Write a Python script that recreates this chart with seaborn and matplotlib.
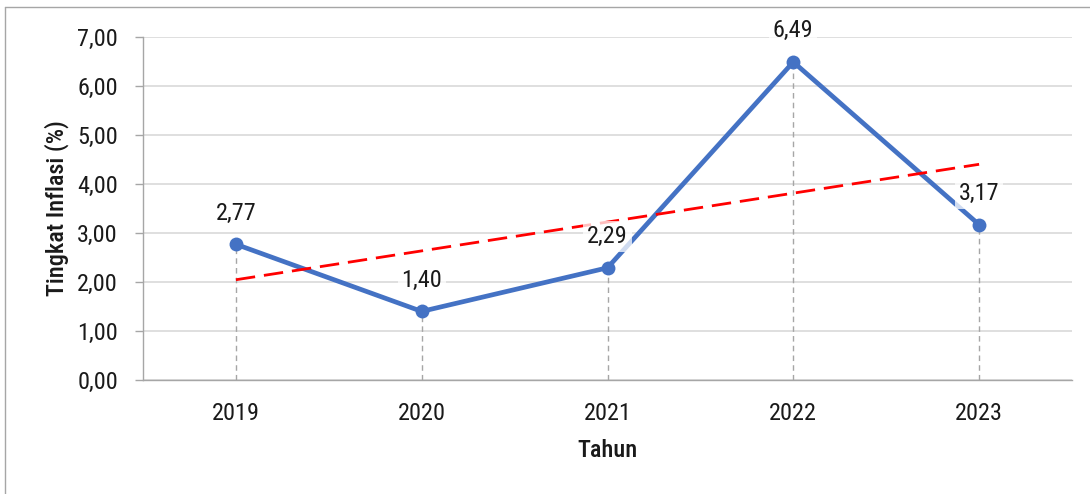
import numpy as np
import pandas as pd
import matplotlib
matplotlib.use("Agg")
import matplotlib.pyplot as plt
import seaborn as sns
from matplotlib.lines import Line2D
from matplotlib.ticker import FuncFormatter

# ---- data ----
years = ["2019", "2020", "2021", "2022", "2023"]
inflation = [2.77, 1.40, 2.29, 6.49, 3.17]
y_ticks = [0, 1, 2, 3, 4, 5, 6, 7]
x_title = "Tahun"
y_title = "Tingkat Inflasi (%)"

sns.set_theme(style="white")
plt.rcParams["font.family"] = ["Roboto Condensed", "DejaVu Sans"]
plt.rcParams["font.stretch"] = "condensed"

FS = 17.5
W, H = 1090, 494
fig = plt.figure(figsize=(W / 100, H / 100), dpi=100)
ax = fig.add_axes([143 / W, 1 - 380 / H, (1072 - 143) / W, (380 - 37) / H])

pos = np.arange(len(years))
df = pd.DataFrame({"pos": pos, "Tahun": years, "Inflasi": inflation})

# drop lines
ax.vlines(df["pos"], 0, df["Inflasi"], colors="#a6a6a6", linestyles=(0, (4, 3)),
          linewidth=1.0, zorder=1)

# main line
sns.lineplot(data=df, x="pos", y="Inflasi", color="#4472C4", linewidth=3.4,
             marker="o", markersize=10, markeredgewidth=0, ax=ax, zorder=3)

# linear trend line
sns.regplot(x=df["pos"], y=df["Inflasi"], ci=None, scatter=False, truncate=True,
            line_kws=dict(color="#ff0000", linestyle=(0, (7, 3.2)), linewidth=2.0, zorder=4),
            ax=ax)

# data labels
for xp, v in zip(df["pos"], df["Inflasi"]):
    ax.annotate(f"{v:.2f}".replace(".", ","), (xp, v), xytext=(0, 22.5),
                textcoords="offset points", ha="center", va="center", fontsize=FS,
                color="#1a1a1a",
                bbox=dict(boxstyle="square,pad=0.15", fc="white", ec="none", alpha=0.75),
                zorder=5)

ax.set_xlim(-0.5, len(years) - 0.5)
ax.set_ylim(y_ticks[0], y_ticks[-1])
ax.set_yticks(y_ticks)
ax.yaxis.set_major_formatter(FuncFormatter(lambda v, p: f"{v:.2f}".replace(".", ",")))
ax.set_xticks(pos, years)

ax.yaxis.grid(True, color="#d9d9d9", linewidth=1.2)
ax.xaxis.grid(False)
ax.set_axisbelow(True)
for s in ["top", "right"]:
    ax.spines[s].set_visible(False)
for s in ["left", "bottom"]:
    ax.spines[s].set_color("#a6a6a6")
    ax.spines[s].set_linewidth(1.0)

ax.tick_params(axis="y", which="major", left=True, length=6, width=1.0, color="#a6a6a6",
               direction="out", pad=12, labelsize=FS, labelcolor="#1a1a1a")
ax.tick_params(axis="x", which="major", bottom=False, length=0, pad=16, labelsize=FS,
               labelcolor="#1a1a1a")

ax.set_xlabel(x_title, fontsize=FS, fontweight="medium", color="#1a1a1a", labelpad=10)
ax.set_ylabel(y_title, fontsize=FS, fontweight="medium", color="#1a1a1a", labelpad=6)

# chart border (left and top edges visible)
fig.add_artist(Line2D([5 / W, 5 / W], [0, 1 - 7 / H], transform=fig.transFigure,
                      color="#a6a6a6", linewidth=1.0))
fig.add_artist(Line2D([5 / W, 1], [1 - 7 / H, 1 - 7 / H], transform=fig.transFigure,
                      color="#a6a6a6", linewidth=1.0))

fig.savefig("out.png", dpi=100, facecolor="white")
